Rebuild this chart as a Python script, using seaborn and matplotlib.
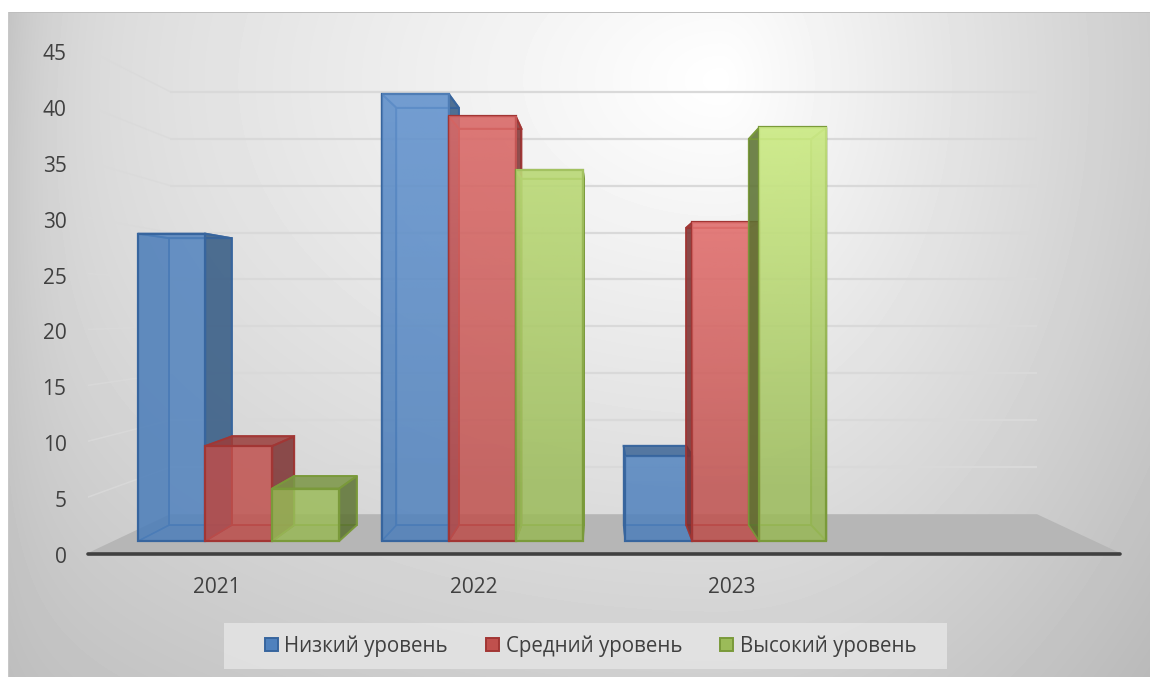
import numpy as np
import pandas as pd
import matplotlib
matplotlib.use("Agg")
import matplotlib.pyplot as plt
from matplotlib.patches import Polygon, Patch, Rectangle
from matplotlib.colors import to_rgb
from matplotlib.transforms import ScaledTranslation
import seaborn as sns

years = ["2021", "2022", "2023"]
levels = ["Низкий уровень", "Средний уровень", "Высокий уровень"]
low = [27.5, 40.0, 7.6]
mid = [8.5, 38.0, 28.5]
high = [4.7, 33.2, 37.0]
y_ticks = [0, 5, 10, 15, 20, 25, 30, 35, 40, 45]
x_label_pos = [-0.089, 0.966, 2.023]

face = {levels[0]: "#4F81BD", levels[1]: "#C0504D", levels[2]: "#9BBB59"}
edge = {levels[0]: "#37659E", levels[1]: "#A23634", levels[2]: "#7A9A3A"}
glow = {levels[0]: "#8DB8F0", levels[1]: "#FF9090", levels[2]: "#E2FF9C"}
shade = {levels[0]: "#2F5680", levels[1]: "#7A2E2E", levels[2]: "#5A7030"}

sns.set_theme(style="white")
plt.rcParams["font.family"] = ["Open Sans", "DejaVu Sans"]

W, H = 1150, 677
fig = plt.figure(figsize=(W / 100, H / 100), dpi=100, facecolor="white")

# chart-area backdrop
bg = fig.add_axes([0, 0, 1, 1], zorder=-5)
bg.set_axis_off()
px, py = np.meshgrid(np.arange(W), np.arange(H))
dx = np.where(px < 720, (720 - px) / 900, (px - 720) / 430)
d = np.sqrt(dx ** 2 + ((py - 80) / 620) ** 2)
v = 255 - 50 * d - 20 * np.exp(-(px - 8) / 45.0) * np.clip(1 - py / 800, 0.1, 1)
v = np.clip(v, 0, 255)
v[:, :8] = 255
v[:12, :] = 255
v[12, 8:] = 190
v[12:, 8] = 200
bg.imshow(v, cmap="gray", vmin=0, vmax=255, aspect="auto", interpolation="nearest")

ax = fig.add_axes([88 / W, 1 - 553 / H, (1120 - 88) / W, 503 / H], facecolor="none")

df = pd.DataFrame({
    "Год": years * 3,
    "Уровень": [levels[0]] * 3 + [levels[1]] * 3 + [levels[2]] * 3,
    "Значение": low + mid + high,
})
sns.barplot(data=df, x="Год", y="Значение", hue="Уровень", hue_order=levels,
            palette=face, saturation=1, width=0.8255, gap=0, dodge=True,
            bottom=1.07, legend=False, ax=ax)
bars = list(ax.patches)

XLIM = (-0.6189, 3.619)
YLIM = (0, 45)
XV, BAR_YV, WALL_YV = 1.488, 22.45, 21.7
BAR_K, WALL_K = 0.0669, 0.16


def deep(x, y, k=BAR_K, yv=BAR_YV):
    return x + (XV - x) * k, y + (yv - y) * k


# floor and walls
corners = [(XLIM[0], 0), (XLIM[1], 0)]
bl = deep(*corners[0], WALL_K, WALL_YV)
br = deep(*corners[1], WALL_K, WALL_YV)
ax.add_patch(Polygon([corners[0], corners[1], br, bl], closed=True, fc="#B6B6B6", ec="none", zorder=1))
for t in y_ticks[1:]:
    a = deep(XLIM[0], t, WALL_K, WALL_YV)
    b = deep(XLIM[1], t, WALL_K, WALL_YV)
    ax.plot([a[0], b[0]], [a[1], a[1]], color="#D9D9D9", lw=1.6, zorder=2, solid_capstyle="butt")
    ax.plot([XLIM[0], a[0]], [t, a[1]], color="#DADADA", lw=1.1, zorder=2, alpha=0.8)

# bars with depth faces
names = [levels[i // 3] for i in range(9)]
order = sorted(range(len(bars)), key=lambda i: bars[i].get_x())
for rank, i in enumerate(order):
    p, name = bars[i], names[i]
    x0, x1 = p.get_x(), p.get_x() + p.get_width()
    y0, y1 = p.get_y(), p.get_y() + p.get_height()
    fl, fr = (x0, y0), (x1, y0)
    tl, tr = (x0, y1), (x1, y1)
    bbl, bbr, btl, btr = deep(*fl), deep(*fr), deep(*tl), deep(*tr)
    z = 10 + rank
    c = to_rgb(face[name])
    s = to_rgb(shade[name])
    ec = to_rgb(edge[name])
    dim = tuple(0.8 * k for k in c)
    # back panel and inner edges
    ax.add_patch(Polygon([bbl, bbr, btr, btl], closed=True, fc=c + (0.12,), ec=ec + (0.85,), lw=1.3, zorder=z))
    # bottom panel
    ax.add_patch(Polygon([fl, fr, bbr, bbl], closed=True, fc=s + (0.22,), ec=ec + (0.7,), lw=1.0, zorder=z + 0.01))
    # side panels
    ax.add_patch(Polygon([fl, bbl, btl, tl], closed=True, fc=s + (0.85 if x0 > XV else 0.28,),
                         ec=ec + (0.8,), lw=1.2, zorder=z + 0.02))
    ax.add_patch(Polygon([fr, bbr, btr, tr], closed=True, fc=s + (0.82 if x1 < XV else 0.28,),
                         ec=ec + (0.9,), lw=1.4, zorder=z + 0.03))
    # top panel
    ax.add_patch(Polygon([tl, tr, btr, btl], closed=True, fc=dim + (0.85 if y1 < BAR_YV else 0.15,),
                         ec=ec + (0.9,), lw=1.4, zorder=z + 0.04))
    # front panel
    p.set_facecolor(c + (0.82,))
    p.set_edgecolor(ec)
    p.set_linewidth(1.6)
    p.set_zorder(z + 0.1)
    # light falling on the front panel
    ys = np.linspace(y1, y0, 64)
    fade = np.clip((ys - 5) / 35, 0, 1)
    reach = np.clip((x0 + 0.25) / 2.0, 0, 1)
    g = to_rgb(glow[name])
    rgba = np.zeros((64, 1, 4))
    rgba[..., :3] = g
    rgba[..., 3] = (fade * reach * 0.7)[:, None]
    ax.imshow(rgba, extent=(x0, x1, y0, y1), aspect="auto", zorder=z + 0.2, interpolation="bilinear")

ax.set_xlim(*XLIM)
ax.set_ylim(*YLIM)
ax.set_xticks(x_label_pos, years)
ax.set_yticks(y_ticks, [str(t) for t in y_ticks])
ax.set_xlabel("")
ax.set_ylabel("")
ax.tick_params(axis="x", length=0, pad=16, labelsize=15, labelcolor="#404040")
ax.tick_params(axis="y", length=0, pad=15.5, labelsize=15, labelcolor="#404040")
nudge = ScaledTranslation(0, -2 / 100, fig.dpi_scale_trans)
for lab in ax.get_yticklabels():
    lab.set_transform(lab.get_transform() + nudge)
for side in ("top", "left", "right"):
    ax.spines[side].set_visible(False)
ax.spines["bottom"].set_position(("outward", 1))
ax.spines["bottom"].set_color("#404040")
ax.spines["bottom"].set_linewidth(2.6)
ax.spines["bottom"].set_capstyle("round")
ax.spines["bottom"].set_zorder(5)

fig.add_artist(Rectangle((224 / W, 1 - 669 / H), 723 / W, 46 / H, transform=fig.transFigure,
                         fc="#E4E4E4", ec="none", alpha=0.85, zorder=1))
handles = [Patch(facecolor=face[n], edgecolor=edge[n], linewidth=1.4, label=n) for n in levels]
leg = fig.legend(handles=handles, ncol=3, loc="center",
                 bbox_to_anchor=(590.5 / W, 1 - 646 / H), frameon=False,
                 fontsize=14.8, labelcolor="#404040", handlelength=0.62, handleheight=0.62,
                 handletextpad=0.33, columnspacing=1.85, borderpad=0, borderaxespad=0)
leg.set_zorder(2)
fig.savefig("out.png", dpi=100)
